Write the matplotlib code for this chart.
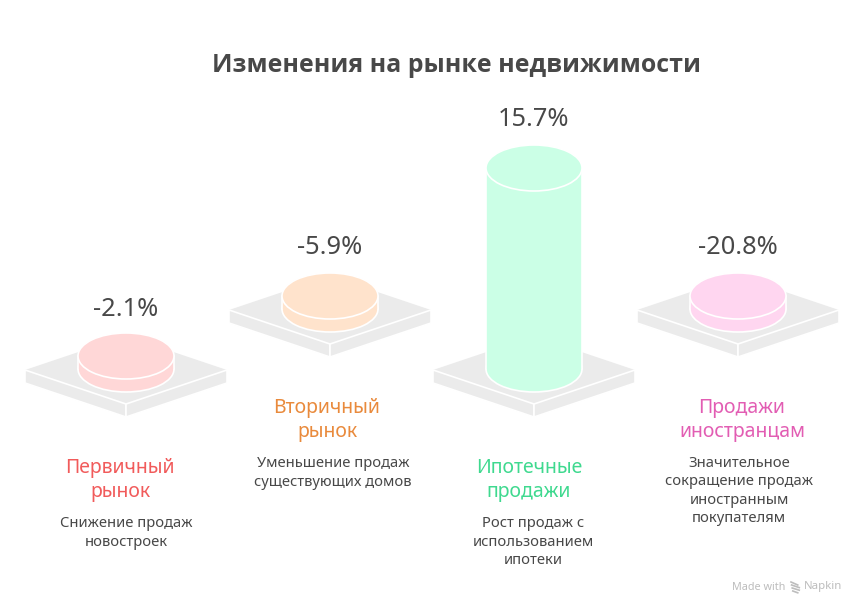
import matplotlib
matplotlib.use("Agg")
import matplotlib.pyplot as plt
from matplotlib.patches import Ellipse, Polygon, Rectangle

title = "Изменения на рынке недвижимости"
names = ["Первичный\nрынок", "Вторичный\nрынок", "Ипотечные\nпродажи", "Продажи\nиностранцам"]
notes = ["Снижение продаж\nновостроек",
         "Уменьшение продаж\nсуществующих домов",
         "Рост продаж с\nиспользованием\nипотеки",
         "Значительное\nсокращение продаж\nиностранным\nпокупателям"]
values = [-2.1, -5.9, 15.7, -20.8]
# drawn cylinder height in pixels
heights = [13, 13, 201, 13]

fills = ["#FFD7D7", "#FFE3CC", "#CBFFE6", "#FFD6F0"]
name_colors = ["#F15B5B", "#E98A3C", "#3FD98F", "#E25DB3"]

xs = [126, 330, 534, 738]
base_y = [370, 310, 370, 310]
name_y = [480, 420, 480, 420]
note_y = [533, 473, 542, 491]
name_x = [120, 327, 529, 742]
note_x = [126, 333, 533, 739]
value_y = [309, 248, 120, 248]

font = ["Noto Sans", "DejaVu Sans"]
dark = "#484848"
grey = "#EBEBEB"

fig = plt.figure(figsize=(8.64, 6.14), dpi=100)
ax = fig.add_axes([0, 0, 1, 1])
ax.set_xlim(0, 864)
ax.set_ylim(614, 0)
ax.axis("off")

hw, hh, th = 101, 34, 13
rx, ry = 48, 23
edge = 1.2

for i in range(4):
    x, y = xs[i], base_y[i]
    # platform
    ax.add_patch(Polygon([(x - hw, y), (x, y - hh), (x + hw, y), (x, y + hh)], fc=grey, ec="none", zorder=1))
    ax.add_patch(Polygon([(x - hw, y), (x, y + hh), (x, y + hh + th), (x - hw, y + th)], fc=grey, ec="white", lw=edge, zorder=2))
    ax.add_patch(Polygon([(x + hw, y), (x, y + hh), (x, y + hh + th), (x + hw, y + th)], fc=grey, ec="white", lw=edge, zorder=2))

    # cylinder
    bottom = y - 1
    top = bottom - heights[i]
    ax.add_patch(Ellipse((x, bottom), 2 * rx, 2 * ry, fc=fills[i], ec="white", lw=edge, zorder=3))
    ax.add_patch(Rectangle((x - rx, top), 2 * rx, heights[i], fc=fills[i], ec="none", zorder=4))
    ax.plot([x - rx, x - rx], [top, bottom], color="white", lw=edge, zorder=4)
    ax.plot([x + rx, x + rx], [top, bottom], color="white", lw=edge, zorder=4)
    ax.add_patch(Ellipse((x, top), 2 * rx, 2 * ry, fc=fills[i], ec="white", lw=edge, zorder=5))

    ax.text(x, value_y[i], f"{values[i]}%", ha="center", va="center", fontsize=18.3, color=dark, family=font, zorder=6)
    ax.text(name_x[i], name_y[i], names[i], ha="center", va="center", fontsize=14, color=name_colors[i],
            family=font, linespacing=1.25, zorder=6)
    ax.text(note_x[i], note_y[i], notes[i], ha="center", va="center", fontsize=10.6, color=dark,
            family=font, linespacing=1.28, zorder=6)

ax.text(457, 66, title, ha="center", va="center", fontsize=17.9, fontweight="bold", color=dark, family="Open Sans")

# footer
ax.text(732, 587, "Made with", ha="left", va="center", fontsize=7.8, color="#BDBDBD", family=font)
ax.text(804, 587, "Napkin", ha="left", va="center", fontsize=8.2, color="#BDBDBD", family=font)
for k in range(4):
    ax.plot([791 + k * 0.6, 800 - abs(k - 1.5) * 1.5], [582 + k * 3, 585 + k * 2.6], color="#BDBDBD", lw=1.2, zorder=6)

fig.savefig("out.png", dpi=100)
